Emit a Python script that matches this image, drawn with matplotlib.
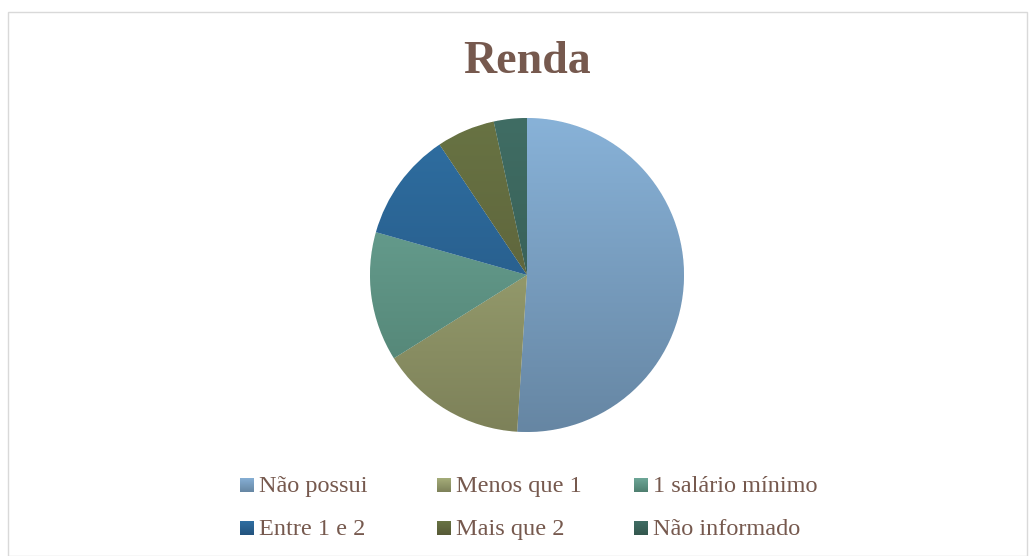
import numpy as np
import matplotlib
matplotlib.use("Agg")
import matplotlib.pyplot as plt
from matplotlib.patches import Rectangle
from matplotlib.colors import LinearSegmentedColormap

# data (percent of respondents)
labels = ["Não possui", "Menos que 1", "1 salário mínimo",
          "Entre 1 e 2", "Mais que 2", "Não informado"]
values = [51.0, 15.1, 13.3, 11.2, 6.0, 3.4]
top_colors = ["#88b2d8", "#a8b07c", "#70aa9b", "#2f6fa2", "#687343", "#406d64"]
bottom_colors = ["#6686a3", "#7d8159", "#4e7e6f", "#23527d", "#575a37", "#33574e"]

W, H = 1031, 556
fig = plt.figure(figsize=(W / 100, H / 100), dpi=100)
text_color = "#76594e"

# outer chart border
fig.patches.append(Rectangle((8 / W, 0), (W - 12) / W, 1 - 12 / H,
                             transform=fig.transFigure, fill=False,
                             edgecolor="#d9d9d9", linewidth=1))

fig.text(527 / W, 1 - 73 / H, "Renda", ha="center", va="baseline",
         fontsize=33, fontweight="bold", color=text_color,
         family="Liberation Serif")

# pie axes: centre (527, 275), radius 157 px
cx, cy, r = 527, 275, 157
half = 160
ax = fig.add_axes([(cx - half) / W, (H - cy - half) / H, 2 * half / W, 2 * half / H])

mids = [LinearSegmentedColormap.from_list("m", [t, b])(0.5)
        for t, b in zip(top_colors, bottom_colors)]
wedges, _ = ax.pie(values, colors=mids, startangle=90, counterclock=False,
                   radius=1, center=(0, 0), frame=True,
                   wedgeprops=dict(linewidth=0.6, edgecolor="#ffffff"))
ax.set_xlim(-half / r, half / r)
ax.set_ylim(-half / r, half / r)
ax.set_aspect("equal")
ax.axis("off")

# vertical gradient fill for each slice
grad = np.linspace(1, 0, 256).reshape(-1, 1)
for w, t, b in zip(wedges, top_colors, bottom_colors):
    cmap = LinearSegmentedColormap.from_list("g", [b, t])
    im = ax.imshow(grad, cmap=cmap, extent=(-1, 1, -1, 1), origin="upper",
                   aspect="auto", zorder=w.get_zorder() + 0.1, vmin=0, vmax=1)
    im.set_clip_path(w)

# legend, two rows of three
for i, (lab, t, b) in enumerate(zip(labels, top_colors, bottom_colors)):
    col, row = i % 3, i // 3
    x = 240 + col * 197
    base = 492 + row * 43
    cmap = LinearSegmentedColormap.from_list("g", [b, t])
    lax = fig.add_axes([x / W, (H - base) / H, 14 / W, 14 / H])
    lax.imshow(grad, cmap=cmap, aspect="auto", vmin=0, vmax=1)
    lax.axis("off")
    fig.text((x + 19) / W, (H - base) / H, lab, ha="left", va="baseline",
             fontsize=17.5, color=text_color, family="Liberation Serif")

fig.savefig("out.png", dpi=100)
